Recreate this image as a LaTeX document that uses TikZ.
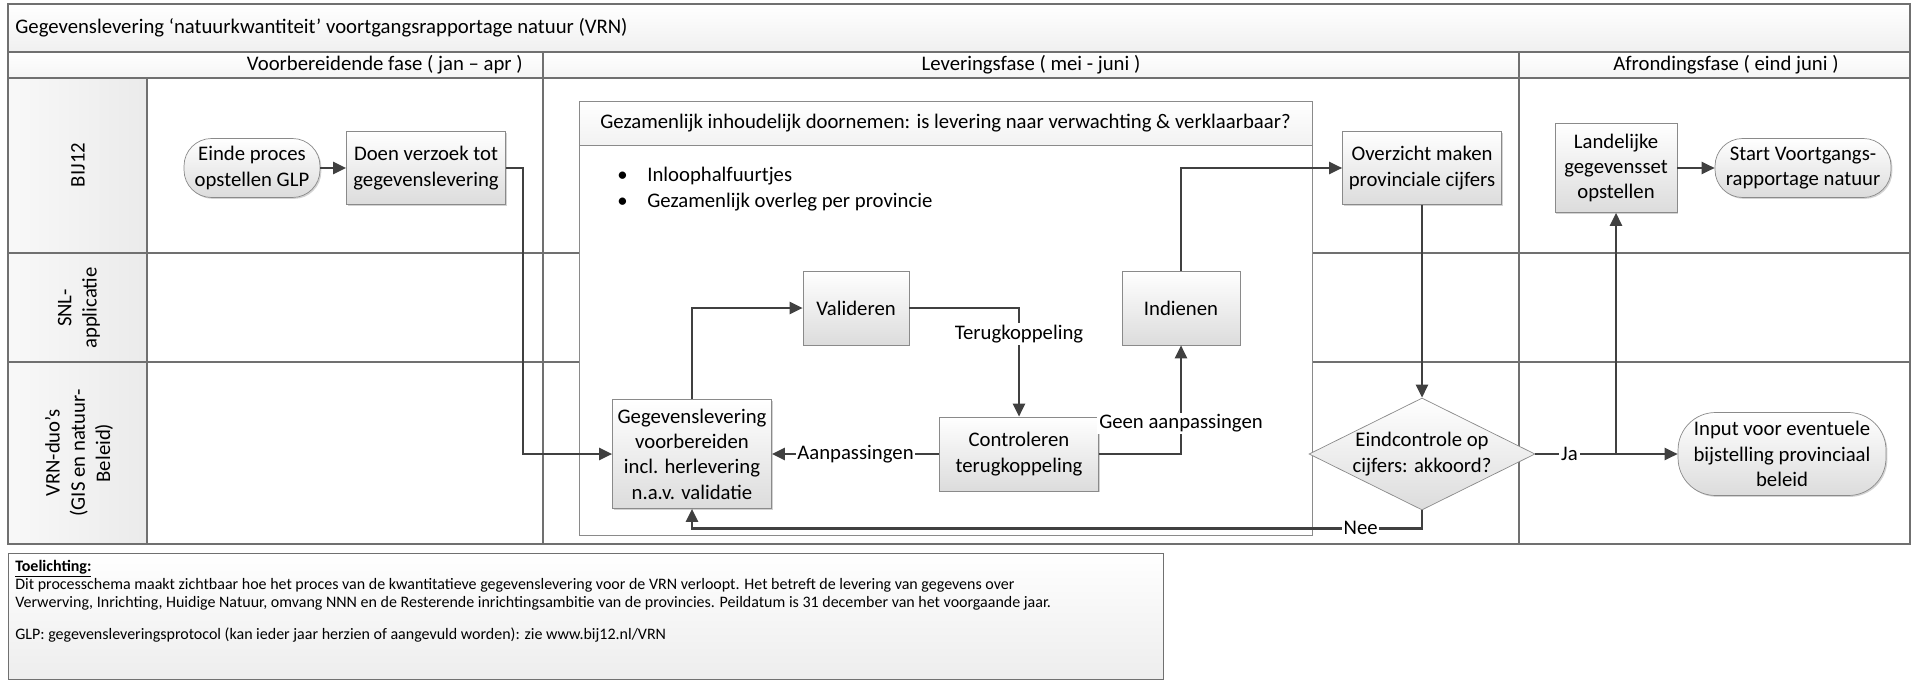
\documentclass[tikz,border=0pt]{standalone}
\usepackage{fontspec}
\setmainfont{Carlito}
\usetikzlibrary{arrows.meta,shapes.geometric,shadows}

\definecolor{lineclr}{HTML}{404040}
\definecolor{laneclr}{HTML}{707070}
\definecolor{boxclr}{HTML}{8A8A8A}
\definecolor{shadeclr}{HTML}{DCDCDC}

\begin{document}
\begin{tikzpicture}[x=0.02cm, y=-0.02cm, font=\fontsize{11.8}{14.4}\selectfont]
\tikzset{
    proc/.style={rectangle, draw=boxclr, top color=white, bottom color=shadeclr, align=center, inner sep=2pt,
        drop shadow={shadow xshift=0.8pt, shadow yshift=-0.8pt, opacity=0.35}},
    term/.style={proc, rounded corners=0.55cm},
    decis/.style={diamond, draw=boxclr, top color=white, bottom color=shadeclr, minimum width=4.52cm, minimum height=2.24cm, inner sep=0pt},
    arr/.style={draw=lineclr, line width=1.4pt, -{Triangle[length=2.6mm, width=2.4mm]}},
    lbl/.style={fill=white, inner sep=1pt},
    lane/.style={draw=laneclr, line width=0.8pt},
    hdr/.style={inner sep=0pt}
}
\useasboundingbox (0,0) rectangle (1915,682);

% --- swimlanes ---
\fill[top color=white, bottom color=gray!12] (8,4) rectangle (1910,52);
\fill[top color=white, bottom color=gray!8] (8,52) rectangle (1910,78);
\fill[left color=gray!5, right color=gray!16] (8,78) rectangle (147,544);
\draw[lane] (8,4) rectangle (1910,544);
\draw[lane] (8,52) -- (1910,52) (8,78) -- (1910,78);
\draw[lane] (147,78) -- (147,544);
\draw[lane] (543,52) -- (543,544) (1519,52) -- (1519,544);
\draw[lane] (8,253) -- (1910,253) (8,362) -- (1910,362);

\node[hdr, anchor=west] (title) at (15,28) {Gegevenslevering ‘natuurkwantiteit’ voortgangsrapportage natuur (VRN)};
\node[hdr, anchor=east] (ph1) at (523,65) {Voorbereidende fase ( jan – apr )};
\node[hdr] (ph2) at (1031,65) {Leveringsfase ( mei - juni )};
\node[hdr] (ph3) at (1726,65) {Afrondingsfase ( eind juni )};

\node[rotate=90, align=center] (lane1) at (78,165) {BIJ12};
\node[rotate=90, align=center] (lane2) at (79,308) {SNL-\\applicatie};
\node[rotate=90, align=center] (lane3) at (79,453) {VRN-duo’s\\(GIS en natuur-\\Beleid)};

% --- group levering ---
\draw[draw=boxclr, fill=white] (579,101) rectangle (1312,535);
\draw[draw=boxclr, top color=white, bottom color=gray!10] (579,101) rectangle (1312,145);
\node (grp) at (945.5,123) {Gezamenlijk inhoudelijk doornemen: is levering naar verwachting \& verklaarbaar?};
\node[anchor=west, align=left, inner sep=0pt] (bul) at (617,189)
    {\makebox[0.6cm][l]{\textbullet}Inloophalfuurtjes\\ \makebox[0.6cm][l]{\textbullet}Gezamenlijk overleg per provincie};

% --- nodes ---
\node[term, minimum width=2.72cm, minimum height=1.18cm] (einde) at (252,168) {Einde proces\\opstellen GLP};
\node[proc, minimum width=3.18cm, minimum height=1.46cm] (doen) at (426,168) {Doen verzoek tot\\gegevenslevering};
\node[proc, minimum width=3.18cm, minimum height=2.18cm] (geg) at (692,454) {Gegevenslevering\\voorbereiden\\incl. herlevering\\n.a.v. validatie};
\node[proc, minimum width=2.12cm, minimum height=1.48cm] (val) at (856,308) {Valideren};
\node[proc, minimum width=3.18cm, minimum height=1.48cm] (ctrl) at (1019,454) {Controleren\\terugkoppeling};
\node[proc, minimum width=2.36cm, minimum height=1.48cm] (ind) at (1181,308) {Indienen};
\node[proc, minimum width=3.18cm, minimum height=1.46cm] (ovz) at (1422,168) {Overzicht maken\\provinciale cijfers};
\node[decis, label={[align=center]center:Eindcontrole op\\cijfers: akkoord?}] (chk) at (1422,454) {};
\node[proc, minimum width=2.44cm, minimum height=1.78cm] (lan) at (1616,168) {Landelijke\\gegevensset\\opstellen};
\node[term, minimum width=3.52cm, minimum height=1.18cm] (start) at (1803,168) {Start Voortgangs-\\rapportage natuur};
\node[term, minimum width=4.16cm, minimum height=1.66cm, rounded corners=0.75cm] (inp) at (1782,454) {Input voor eventuele\\bijstelling provinciaal\\beleid};

% --- edges ---
\draw[arr] (einde) -- (doen);
\draw[arr] (doen.east) -- ++(17,0) |- (geg.west);
\draw[arr] (geg.north) |- (val.west);
\draw[arr] (val.east) -| node[lbl, pos=0.62] {Terugkoppeling} (ctrl.north);
\draw[arr] (ctrl.west) -- node[lbl] {Aanpassingen} (geg.east);
\draw[arr] (ctrl.east) -| node[lbl, pos=0.64] {Geen aanpassingen} (ind.south);
\draw[arr] (ind.north) |- (ovz.west);
\draw[arr] (ovz.south) -- (chk.north);
\draw[arr] (chk.east) -- node[lbl, pos=0.24] {Ja} (inp.west);
\coordinate (jasplit) at (lan.south |- chk.east);
\draw[arr] (jasplit) -- (lan.south);
\draw[arr] (chk.south) -- ++(0,18) -| node[lbl, pos=0.042] {Nee} (geg.south);
\draw[arr] (lan) -- (start);

% --- toelichting ---
\draw[draw=laneclr, top color=white, bottom color=gray!14] (8,553) rectangle (1163,679);
\node[anchor=north west, align=left, inner sep=0pt, font=\fontsize{9.1}{10.2}\selectfont] (note) at (15,560)
    {\underline{\textbf{Toelichting:}}\\
     Dit processchema maakt zichtbaar hoe het proces van de kwantitatieve gegevenslevering voor de VRN verloopt. Het betreft de levering van gegevens over\\
     Verwerving, Inrichting, Huidige Natuur, omvang NNN en de Resterende inrichtingsambitie van de provincies. Peildatum is 31 december van het voorgaande jaar.\\[8pt]
     GLP: gegevensleveringsprotocol (kan ieder jaar herzien of aangevuld worden): zie www.bij12.nl/VRN};
\end{tikzpicture}
\end{document}
